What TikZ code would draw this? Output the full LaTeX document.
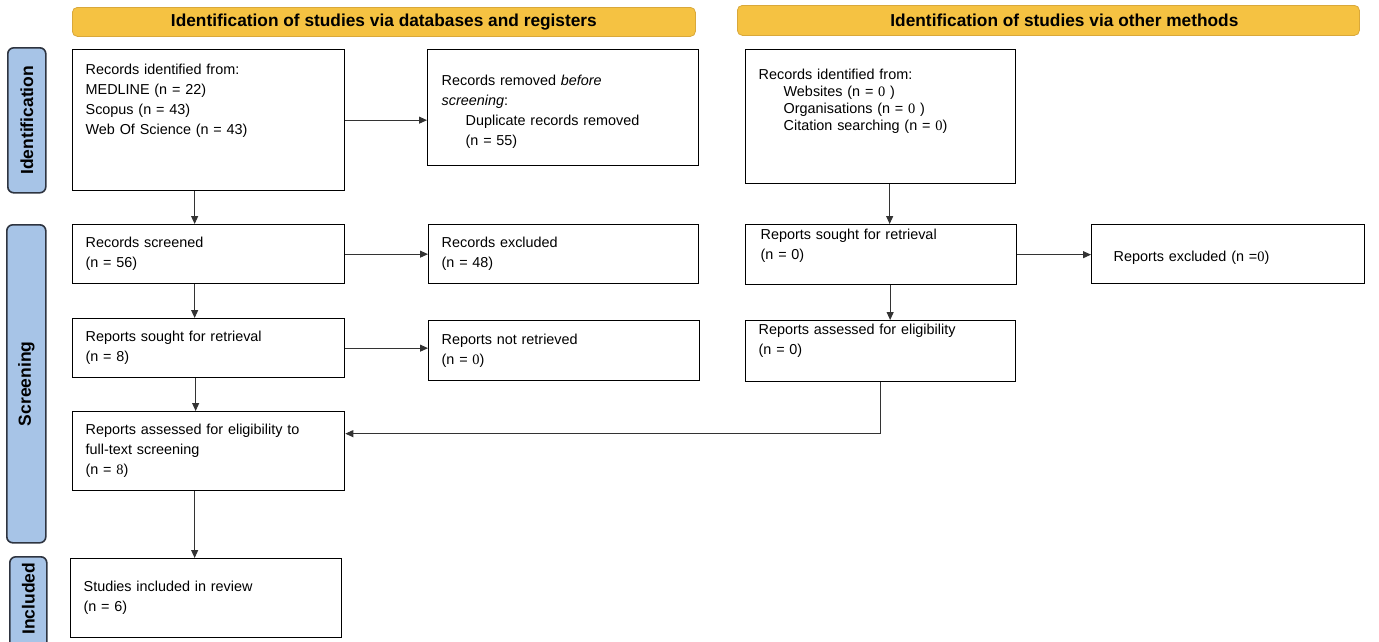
\documentclass[tikz,border=0pt]{standalone}
\usepackage{fontspec}
\setmainfont{Liberation Sans}
\newfontfamily\serifnum{Liberation Serif}
\usepackage{tikz}
\usetikzlibrary{arrows.meta, calc}

\definecolor{headyellow}{HTML}{F5C242}
\definecolor{headedge}{HTML}{D9A83A}
\definecolor{sideblue}{HTML}{A7C4E7}
\definecolor{sideedge}{HTML}{2E3440}
\newcommand{\sn}[1]{{\serifnum #1}}

\begin{document}
\begin{tikzpicture}[
                x=1pt, y=-1pt,
                font=\fontsize{14.4}{20}\selectfont,
                header/.style={rectangle, draw=headedge, fill=headyellow, rounded corners=5pt,
                        line width=0.8pt, anchor=north west, inner sep=0pt,
                        font=\fontsize{17.3}{20}\selectfont\bfseries},
                phase/.style={rectangle, draw=sideedge, fill=sideblue, rounded corners=6pt,
                        line width=1.6pt, anchor=north west, inner sep=0pt},
                phasetext/.style={rotate=90, font=\fontsize{17.5}{20}\selectfont\bfseries},
                record/.style={rectangle, draw, line width=1.3pt, anchor=north west, align=left,
                        inner xsep=13pt, inner ysep=0pt},
                arrow/.style={-{Triangle[length=8pt, width=7pt]}, line width=1pt, black!80},
            ]
            \useasboundingbox (0,0) rectangle (1379,641);

            % --- headers ----------------------------------------------------
            \node[header, minimum width=623, minimum height=29] (head_db)  at (72, 7)
            {Identification of studies via databases and registers};
            \node[header, minimum width=622, minimum height=30] (head_oth) at (737, 5)
            {\hspace*{32pt}Identification of studies via other methods};

            % --- phases -----------------------------------------------------
            \node[phase, minimum width=38, minimum height=145] (ph_ident) at (7, 47) {};
            \node[phase, minimum width=39, minimum height=318] (ph_screen) at (6, 224) {};
            \node[phase, minimum width=37, minimum height=100] (ph_incl) at (9, 556) {};
            \node[phasetext] at (ph_ident.center) {Identification};
            \node[phasetext] at (ph_screen.center) {Screening};
            \node[phasetext] at ([yshift=8pt]ph_incl.center) {Included};

            % --- databases and registers -----------------------------------
            \node[record, minimum width=272, minimum height=141, text width=246] (rec_db) at (72, 49)
            {Records identified from:\\MEDLINE (n = 22)\\Scopus (n = 43)\\Web Of Science (n = 43)\\ \strut\\[-5pt] \strut};
            \node[record, minimum width=271, minimum height=116, inner xsep=14pt, text width=243] (removed) at (427, 49)
            {\strut\\[-15pt]Records removed \textit{before}\\\textit{screening}:\\\hspace*{24pt}Duplicate records removed\\\hspace*{24pt}(n = 55)};
            \node[record, minimum width=272, minimum height=59, text width=246] (screened) at (72, 224)
            {Records screened\\(n = 56)};
            \node[record, minimum width=270, minimum height=59, text width=244] (excluded) at (428, 224)
            {Records excluded\\(n = 48)};
            \node[record, minimum width=272, minimum height=59, text width=246] (sought) at (72, 318)
            {Reports sought for retrieval\\(n = 8)};
            \node[record, minimum width=271, minimum height=60, text width=245] (notretr) at (428, 320)
            {Reports not retrieved\\(n = \sn{0})};
            \node[record, minimum width=272, minimum height=79, text width=246] (assessed) at (72, 411)
            {Reports assessed for eligibility to\\full-text screening\\(n = \sn{8})};
            \node[record, minimum width=271, minimum height=79, text width=245] (included) at (70, 558)
            {Studies included in review\\(n = 6)};

            % --- other methods ----------------------------------------------
            \node[record, minimum width=270, minimum height=134, text width=244,
                font=\fontsize{14.4}{17}\selectfont] (rec_oth) at (745, 49)
            {Records identified from:\\\hspace*{25pt}Websites (n = \sn{0} )\\\hspace*{25pt}Organisations (n = \sn{0} )\\
                \hspace*{25pt}Citation searching (n = \sn{0})\\ \strut\\[-6pt] \strut};
            \node[record, minimum width=271, minimum height=60, inner xsep=15pt, text width=241] (oth_sought) at (745, 224)
            {Reports sought for retrieval\\(n = 0)\\[-6pt] \strut};
            \node[record, minimum width=273, minimum height=59, inner xsep=22pt, text width=229] (oth_excl) at (1091, 224)
            {\strut\\[-16pt]Reports excluded (n =\sn{0})};
            \node[record, minimum width=270, minimum height=61, text width=244] (oth_assessed) at (745, 320)
            {Reports assessed for eligibility\\(n = 0)\\[-3pt] \strut};

            % --- flow -------------------------------------------------------
            \draw[arrow] ([xshift=-14pt]rec_db.south) -- ([xshift=-14pt]screened.north);
            \draw[arrow] (rec_db.east) -- (rec_db.east -| removed.west);
            \draw[arrow] (screened.east) -- (excluded.west);
            \draw[arrow] ([xshift=-14pt]screened.south) -- ([xshift=-14pt]sought.north);
            \draw[arrow] (sought.east) -- (sought.east -| notretr.west);
            \draw[arrow] ([xshift=-13pt]sought.south) -- ([xshift=-13pt]assessed.north);
            \draw[arrow] ([xshift=-14pt]assessed.south) -- ([xshift=-14pt]assessed.south |- included.north);

            \draw[arrow] ([xshift=9pt]rec_oth.south) -- ([xshift=9pt]rec_oth.south |- oth_sought.north);
            \draw[arrow] (oth_sought.east) -- (oth_sought.east -| oth_excl.west);
            \draw[arrow] ([xshift=9pt]oth_sought.south) -- ([xshift=9pt]oth_sought.south |- oth_assessed.north);
            \draw[arrow] (oth_assessed.south) |- ([yshift=17.5pt]assessed.east);
        \end{tikzpicture}
\end{document}
